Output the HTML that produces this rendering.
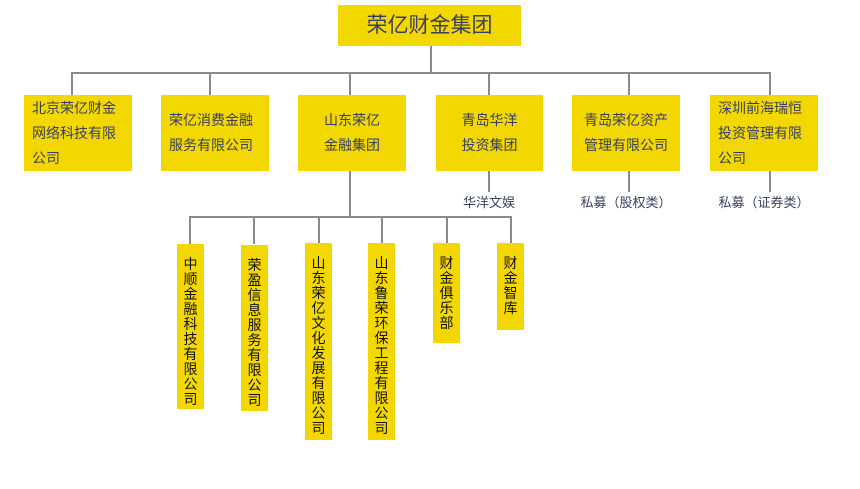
<!DOCTYPE html>
<html><head><meta charset="utf-8"><style>
body{margin:0;width:860px;height:489px;background:#fff;position:relative;overflow:hidden;font-family:"Liberation Sans","Noto Sans CJK SC",sans-serif}
.b{position:absolute;background:#f2d700;color:#39405e;font-size:14px;line-height:25px;box-sizing:border-box}
.l{position:absolute;background:#8a8a8a}
.v{position:absolute;background:#f2d700;color:#111;width:27px;box-sizing:border-box;padding-top:13px}
.v div{width:14px;margin:0 auto;font-size:14px;line-height:15px;word-break:break-all;text-align:center}
.t{position:absolute;color:#39405e;font-size:13px;text-align:center;width:140px}
</style></head><body>
<div class="b" style="left:338px;top:5px;width:183px;height:41px;font-size:21px;line-height:41px;text-align:center">荣亿财金集团</div>
<div class="l" style="left:430px;top:46px;width:2px;height:27px"></div>
<div class="l" style="left:71px;top:72px;width:700px;height:2px"></div>
<div class="l" style="left:71px;top:72px;width:2px;height:23px"></div>
<div class="l" style="left:209px;top:72px;width:2px;height:23px"></div>
<div class="l" style="left:349px;top:72px;width:2px;height:23px"></div>
<div class="l" style="left:488px;top:72px;width:2px;height:23px"></div>
<div class="l" style="left:628px;top:72px;width:2px;height:23px"></div>
<div class="l" style="left:769px;top:72px;width:2px;height:23px"></div>
<div class="b" style="left:24px;top:95px;width:108px;height:76px;padding:1px 0 0 8px">北京荣亿财金<br>网络科技有限<br>公司</div>
<div class="b" style="left:161px;top:95px;width:108px;height:76px;padding:13px 0 0 8px">荣亿消费金融<br>服务有限公司</div>
<div class="b" style="left:298px;top:95px;width:108px;height:76px;padding:13px 0 0 0;text-align:center">山东荣亿<br>金融集团</div>
<div class="b" style="left:436px;top:95px;width:107px;height:76px;padding:13px 0 0 0;text-align:center">青岛华洋<br>投资集团</div>
<div class="b" style="left:572px;top:95px;width:108px;height:76px;padding:13px 0 0 0;text-align:center">青岛荣亿资产<br>管理有限公司</div>
<div class="b" style="left:710px;top:95px;width:108px;height:76px;padding:1px 0 0 8px">深圳前海瑞恒<br>投资管理有限<br>公司</div>
<div class="l" style="left:488px;top:171px;width:2px;height:21px"></div>
<div class="l" style="left:628px;top:171px;width:2px;height:21px"></div>
<div class="l" style="left:769px;top:171px;width:2px;height:21px"></div>
<div class="t" style="left:419px;top:192px">华洋文娱</div>
<div class="t" style="left:556px;top:192px">私募（股权类）</div>
<div class="t" style="left:694px;top:192px">私募（证券类）</div>
<div class="l" style="left:349px;top:171px;width:2px;height:46px"></div>
<div class="l" style="left:189px;top:216px;width:323px;height:2px"></div>
<div class="l" style="left:189px;top:216px;width:2px;height:28px"></div>
<div class="l" style="left:253px;top:216px;width:2px;height:28px"></div>
<div class="l" style="left:318px;top:216px;width:2px;height:28px"></div>
<div class="l" style="left:381px;top:216px;width:2px;height:28px"></div>
<div class="l" style="left:446px;top:216px;width:2px;height:28px"></div>
<div class="l" style="left:510px;top:216px;width:2px;height:28px"></div>
<div class="v" style="left:177px;top:244px;height:165px"><div>中顺金融科技有限公司</div></div>
<div class="v" style="left:241px;top:245px;height:166px"><div>荣盈信息服务有限公司</div></div>
<div class="v" style="left:305px;top:243px;height:197px"><div>山东荣亿文化发展有限公司</div></div>
<div class="v" style="left:368px;top:243px;height:197px"><div>山东鲁荣环保工程有限公司</div></div>
<div class="v" style="left:433px;top:243px;height:100px"><div>财金俱乐部</div></div>
<div class="v" style="left:497px;top:243px;height:87px"><div>财金智库</div></div>
</body></html>
